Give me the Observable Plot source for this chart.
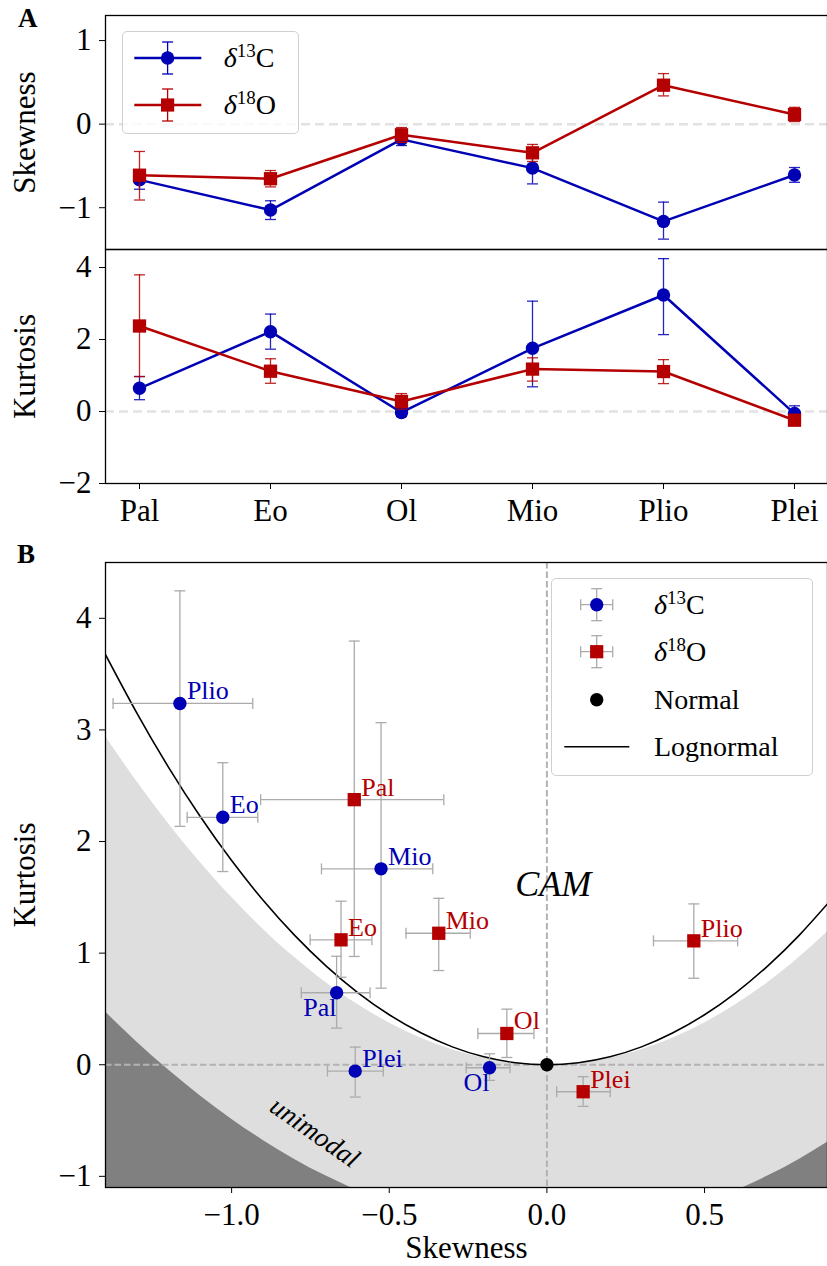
<!DOCTYPE html>
<html>
<head>
<meta charset="utf-8">
<script src="https://cdn.jsdelivr.net/npm/d3@7"></script>
<script src="https://cdn.jsdelivr.net/npm/@observablehq/plot@0.6"></script>
<style>
  html, body { margin: 0; padding: 0; background: #fff; }
  body { width: 827px; height: 1266px; position: relative; overflow: hidden; font-family: "Liberation Serif", serif; color: #000; }
  .panel { position: absolute; left: 0; }
  .plabel { position: absolute; font-weight: bold; font-size: 27px; line-height: 1; }
  .legend { position: absolute; border: 1.2px solid #d0d0d0; border-radius: 5px; background: rgba(255,255,255,0.8); box-sizing: border-box; }
  .legend svg { position: absolute; left: 0; top: 0; overflow: visible; }
  .lt { position: absolute; font-size: 28px; line-height: 1; transform: translateY(-50%); white-space: nowrap; }
  .lt sup { font-size: 19px; vertical-align: 0; position: relative; top: -0.55em; }
</style>
</head>
<body>
<div class="plabel" style="left:18px;top:5px">A</div>
<div class="plabel" style="left:17px;top:541px">B</div>
<div id="p1" class="panel" style="top:0px"></div>
<div id="p2" class="panel" style="top:249px"></div>
<div id="p3" class="panel" style="top:529.7px"></div>
<div id="legA" class="legend" style="left:121.7px;top:31px;width:177.3px;height:103px"></div>
<div id="legB" class="legend" style="left:551px;top:578.3px;width:261.7px;height:197.4px"></div>
<script>
// ---------- data ----------
const eras = ["Pal", "Eo", "Ol", "Mio", "Plio", "Plei"];

// δ13C
const c13Skew   = [-0.667, -1.028, -0.182, -0.526, -1.164, -0.608];
const c13SkewLo = [-0.779, -1.141, -0.256, -0.715, -1.376, -0.696];
const c13SkewHi = [-0.561, -0.917, -0.117, -0.362, -0.933, -0.519];
const c13Kurt   = [0.645, 2.217, -0.027, 1.755, 3.237, -0.057];
const c13KurtLo = [0.328, 1.731, -0.140, 0.686, 2.136, -0.290];
const c13KurtHi = [0.972, 2.706, 0.098, 3.065, 4.246, 0.158];

// δ18O
const o18Skew   = [-0.611, -0.653, -0.127, -0.343, 0.466, 0.115];
const o18SkewLo = [-0.908, -0.751, -0.219, -0.447, 0.338, 0.031];
const o18SkewHi = [-0.327, -0.555, -0.041, -0.243, 0.605, 0.201];
const o18Kurt   = [2.375, 1.119, 0.280, 1.178, 1.110, -0.242];
const o18KurtLo = [0.970, 0.784, 0.065, 0.844, 0.775, -0.373];
const o18KurtHi = [3.796, 1.465, 0.498, 1.491, 1.441, -0.107];

// Normal distribution point
const normalSkew = [0];
const normalKurt = [0];

// Region boundaries (read along skewness grid)
const gridSkew   = [-1.4, -1.3, -1.2, -1.1, -1.0, -0.9, -0.8, -0.7, -0.6, -0.5, -0.4, -0.3, -0.2, -0.1, 0.0, 0.1, 0.2, 0.3, 0.4, 0.5, 0.6, 0.7, 0.8, 0.9];
const camBound   = [2.94, 2.535, 2.16, 1.815, 1.5, 1.215, 0.96, 0.735, 0.54, 0.375, 0.24, 0.135, 0.06, 0.015, 0, 0.015, 0.06, 0.135, 0.24, 0.375, 0.54, 0.735, 0.96, 1.215];
const unimodalBound = [0.472, 0.202, -0.048, -0.278, -0.488, -0.678, -0.848, -0.998, -1.128, -1.238, -1.328, -1.398, -1.448, -1.478, -1.488, -1.478, -1.448, -1.398, -1.328, -1.238, -1.128, -0.998, -0.848, -0.678];
const lognormalKurt = [3.674, 3.148, 2.665, 2.226, 1.829, 1.474, 1.159, 0.884, 0.647, 0.448, 0.286, 0.160, 0.071, 0.018, 0, 0.018, 0.071, 0.160, 0.286, 0.448, 0.647, 0.884, 1.159, 1.474];

// Annotations
const camLabel = {text: "CAM", skew: 0.02, kurt: 1.615};
const unimodalLabel = {text: "unimodal", skew: -0.736, kurt: -0.606};

// tick values
const skewTicksA = [-1, 0, 1];
const kurtTicksA = [-2, 0, 2, 4];
const skewTicksB = [-1.0, -0.5, 0.0, 0.5];
const kurtTicksB = [-1, 0, 1, 2, 3, 4];

// ---------- styles ----------
const colC = "#0000b4";
const colO = "#b40000";
const errGray = "#ababab";
const font = "Liberation Serif";

const c13 = eras.map((e, i) => ({era: e, skew: c13Skew[i], skewLo: c13SkewLo[i], skewHi: c13SkewHi[i], kurt: c13Kurt[i], kurtLo: c13KurtLo[i], kurtHi: c13KurtHi[i]}));
const o18 = eras.map((e, i) => ({era: e, skew: o18Skew[i], skewLo: o18SkewLo[i], skewHi: o18SkewHi[i], kurt: o18Kurt[i], kurtLo: o18KurtLo[i], kurtHi: o18KurtHi[i]}));
const grid = gridSkew.map((s, i) => ({s, cam: camBound[i], uni: unimodalBound[i], logn: lognormalKurt[i]}));
const normal = normalSkew.map((s, i) => ({s, k: normalKurt[i]}));

const hcap = {draw(ctx, size) { const w = Math.sqrt(size / Math.PI); ctx.moveTo(-w, 0); ctx.lineTo(w, 0); }};
const vcap = {draw(ctx, size) { const w = Math.sqrt(size / Math.PI); ctx.moveTo(0, -w); ctx.lineTo(0, w); }};

const baseStyle = {fontFamily: font, fontSize: "31px", color: "black", background: "transparent", overflow: "visible"};
const intFmt = d3.format("d");

function seriesA(data, v, col, symbol, r) {
  return [
    Plot.ruleX(data, {x: "era", y1: v + "Lo", y2: v + "Hi", stroke: col, strokeWidth: 1.3, strokeOpacity: 0.85}),
    Plot.dot(data, {x: "era", y: v + "Lo", symbol: hcap, r: 5.5, stroke: col, fill: "none", strokeWidth: 1.3, strokeOpacity: 0.85}),
    Plot.dot(data, {x: "era", y: v + "Hi", symbol: hcap, r: 5.5, stroke: col, fill: "none", strokeWidth: 1.3, strokeOpacity: 0.85}),
    Plot.line(data, {x: "era", y: v, stroke: col, strokeWidth: 2.5}),
    Plot.dot(data, {x: "era", y: v, symbol, r, fill: col, stroke: "none"})
  ];
}

// ---------- Panel A top: skewness ----------
const p1 = Plot.plot({
  width: 827, height: 249,
  marginTop: 15, marginBottom: 0, marginLeft: 105, marginRight: 0,
  style: baseStyle,
  x: {type: "point", domain: eras, padding: 0.25, axis: null},
  y: {domain: [-1.5, 1.3]},
  marks: [
    Plot.ruleY([0], {stroke: "#e2e2e2", strokeWidth: 2.5, strokeDasharray: "9,5"}),
    ...seriesA(c13, "skew", colC, "circle", 6.7),
    ...seriesA(o18, "skew", colO, "square", 7.5),
    Plot.axisY({ticks: skewTicksA, tickFormat: intFmt, tickSize: 6, tickPadding: 8, label: null}),
    Plot.text(["Skewness"], {frameAnchor: "left", rotate: -90, dx: -80, textAnchor: "middle", lineAnchor: "middle", fontSize: 31}),
    Plot.frame({stroke: "black", strokeWidth: 1.3})
  ]
});
document.getElementById("p1").append(p1);

// ---------- Panel A bottom: kurtosis ----------
const p2 = Plot.plot({
  width: 827, height: 290,
  marginTop: 0, marginBottom: 56, marginLeft: 105, marginRight: 0,
  style: baseStyle,
  x: {type: "point", domain: eras, padding: 0.25},
  y: {domain: [-2, 4.5]},
  marks: [
    Plot.ruleY([0], {stroke: "#e2e2e2", strokeWidth: 2.5, strokeDasharray: "9,5"}),
    ...seriesA(c13, "kurt", colC, "circle", 6.7),
    ...seriesA(o18, "kurt", colO, "square", 7.5),
    Plot.axisX({tickSize: 6, tickPadding: 9, label: null}),
    Plot.axisY({ticks: kurtTicksA, tickFormat: intFmt, tickSize: 6, tickPadding: 8, label: null}),
    Plot.text(["Kurtosis"], {frameAnchor: "left", rotate: -90, dx: -80, textAnchor: "middle", lineAnchor: "middle", fontSize: 31}),
    Plot.frame({stroke: "black", strokeWidth: 1.3})
  ]
});
document.getElementById("p2").append(p2);

// ---------- Panel B ----------
const belowLeft = ["Pal", "Ol"];
function errB(data) {
  const o = {stroke: errGray, strokeWidth: 1.3};
  return [
    Plot.ruleX(data, {x: "skew", y1: "kurtLo", y2: "kurtHi", ...o}),
    Plot.ruleY(data, {y: "kurt", x1: "skewLo", x2: "skewHi", ...o}),
    Plot.dot(data, {x: "skew", y: "kurtLo", symbol: hcap, r: 5.5, fill: "none", ...o}),
    Plot.dot(data, {x: "skew", y: "kurtHi", symbol: hcap, r: 5.5, fill: "none", ...o}),
    Plot.dot(data, {x: "skewLo", y: "kurt", symbol: vcap, r: 5.5, fill: "none", ...o}),
    Plot.dot(data, {x: "skewHi", y: "kurt", symbol: vcap, r: 5.5, fill: "none", ...o})
  ];
}
const p3 = Plot.plot({
  width: 827, height: 736,
  marginTop: 32, marginBottom: 79, marginLeft: 105, marginRight: 0,
  style: baseStyle,
  x: {domain: [-1.4, 0.89]},
  y: {domain: [-1.1, 4.5]},
  marks: [
    Plot.areaY(grid, {x: "s", y1: -3, y2: "cam", fill: "#dedede", curve: "natural", clip: true}),
    Plot.areaY(grid, {x: "s", y1: -3, y2: "uni", fill: "#808080", curve: "natural", clip: true}),
    Plot.ruleX([0], {stroke: "#b3b3b3", strokeWidth: 2, strokeDasharray: "6.5,3"}),
    Plot.ruleY([0], {stroke: "#b3b3b3", strokeWidth: 2, strokeDasharray: "6.5,3"}),
    Plot.line(grid, {x: "s", y: "logn", stroke: "black", strokeWidth: 1.6, curve: "natural", clip: true}),
    ...errB(c13),
    ...errB(o18),
    Plot.dot(c13, {x: "skew", y: "kurt", symbol: "circle", r: 6.7, fill: colC, stroke: "none"}),
    Plot.dot(o18, {x: "skew", y: "kurt", symbol: "square", r: 7.5, fill: colO, stroke: "none"}),
    Plot.dot(normal, {x: "s", y: "k", symbol: "circle", r: 6.7, fill: "black", stroke: "none"}),
    Plot.text(c13.filter(d => !belowLeft.includes(d.era)), {x: "skew", y: "kurt", text: "era", fill: colC, fontSize: 26, textAnchor: "start", lineAnchor: "bottom", dx: 7, dy: -4}),
    Plot.text(c13.filter(d => belowLeft.includes(d.era)), {x: "skew", y: "kurt", text: "era", fill: colC, fontSize: 26, textAnchor: "end", lineAnchor: "bottom", dx: 0, dy: 23}),
    Plot.text(o18, {x: "skew", y: "kurt", text: "era", fill: colO, fontSize: 26, textAnchor: "start", lineAnchor: "bottom", dx: 7, dy: -4}),
    Plot.text([camLabel], {x: "skew", y: "kurt", text: "text", fontSize: 36, fontStyle: "italic", textAnchor: "middle", lineAnchor: "middle"}),
    Plot.text([unimodalLabel], {x: "skew", y: "kurt", text: "text", fontSize: 27, fontStyle: "italic", textAnchor: "middle", lineAnchor: "middle", rotate: 35}),
    Plot.axisX({ticks: skewTicksB, tickFormat: ".1f", tickSize: 6, tickPadding: 9, label: null}),
    Plot.axisY({ticks: kurtTicksB, tickFormat: intFmt, tickSize: 6, tickPadding: 8, label: null}),
    Plot.text(["Skewness"], {frameAnchor: "bottom", textAnchor: "middle", lineAnchor: "bottom", dy: 70, fontSize: 31}),
    Plot.text(["Kurtosis"], {frameAnchor: "left", rotate: -90, dx: -80, textAnchor: "middle", lineAnchor: "middle", fontSize: 31}),
    Plot.frame({stroke: "black", strokeWidth: 1.3})
  ]
});
document.getElementById("p3").append(p3);

// ---------- Legends ----------
function errCross(cx, cy, col, vOnly) {
  let s = `<line x1="${cx}" x2="${cx}" y1="${cy-16}" y2="${cy+16}" stroke="${col}" stroke-width="1.3"/>` +
          `<line x1="${cx-5.5}" x2="${cx+5.5}" y1="${cy-16}" y2="${cy-16}" stroke="${col}" stroke-width="1.3"/>` +
          `<line x1="${cx-5.5}" x2="${cx+5.5}" y1="${cy+16}" y2="${cy+16}" stroke="${col}" stroke-width="1.3"/>`;
  if (!vOnly) {
    s += `<line x1="${cx-16}" x2="${cx+16}" y1="${cy}" y2="${cy}" stroke="${col}" stroke-width="1.3"/>` +
         `<line x1="${cx-16}" x2="${cx-16}" y1="${cy-5.5}" y2="${cy+5.5}" stroke="${col}" stroke-width="1.3"/>` +
         `<line x1="${cx+16}" x2="${cx+16}" y1="${cy-5.5}" y2="${cy+5.5}" stroke="${col}" stroke-width="1.3"/>`;
  }
  return s;
}
const labC = `<i>δ</i><sup>13</sup>C`;
const labO = `<i>δ</i><sup>18</sup>O`;

// Legend A
(function () {
  const el = document.getElementById("legA");
  const cx = 44.6, y1 = 26, y2 = 73;
  el.innerHTML =
    `<svg width="177" height="103">` +
    `<line x1="11.3" x2="78.3" y1="${y1}" y2="${y1}" stroke="${colC}" stroke-width="2.5"/>` +
    errCross(cx, y1, colC, true) +
    `<circle cx="${cx}" cy="${y1}" r="6.7" fill="${colC}"/>` +
    `<line x1="11.3" x2="78.3" y1="${y2}" y2="${y2}" stroke="${colO}" stroke-width="2.5"/>` +
    errCross(cx, y2, colO, true) +
    `<rect x="${cx-6.6}" y="${y2-6.6}" width="13.2" height="13.2" fill="${colO}"/>` +
    `</svg>` +
    `<div class="lt" style="left:101px;top:${y1}px">${labC}</div>` +
    `<div class="lt" style="left:101px;top:${y2}px">${labO}</div>`;
})();

// Legend B
(function () {
  const el = document.getElementById("legB");
  const cx = 44.7, ys = [25.7, 72.7, 120.7, 167.7];
  el.innerHTML =
    `<svg width="261" height="197">` +
    errCross(cx, ys[0], errGray, false) +
    `<circle cx="${cx}" cy="${ys[0]}" r="6.7" fill="${colC}"/>` +
    errCross(cx, ys[1], errGray, false) +
    `<rect x="${cx-6.6}" y="${ys[1]-6.6}" width="13.2" height="13.2" fill="${colO}"/>` +
    `<circle cx="${cx}" cy="${ys[2]}" r="6.7" fill="black"/>` +
    `<line x1="12.3" x2="77.3" y1="${ys[3]}" y2="${ys[3]}" stroke="black" stroke-width="1.6"/>` +
    `</svg>` +
    `<div class="lt" style="left:102px;top:${ys[0]}px">${labC}</div>` +
    `<div class="lt" style="left:102px;top:${ys[1]}px">${labO}</div>` +
    `<div class="lt" style="left:102px;top:${ys[2]}px">Normal</div>` +
    `<div class="lt" style="left:102px;top:${ys[3]}px">Lognormal</div>`;
})();
</script>
</body>
</html>
